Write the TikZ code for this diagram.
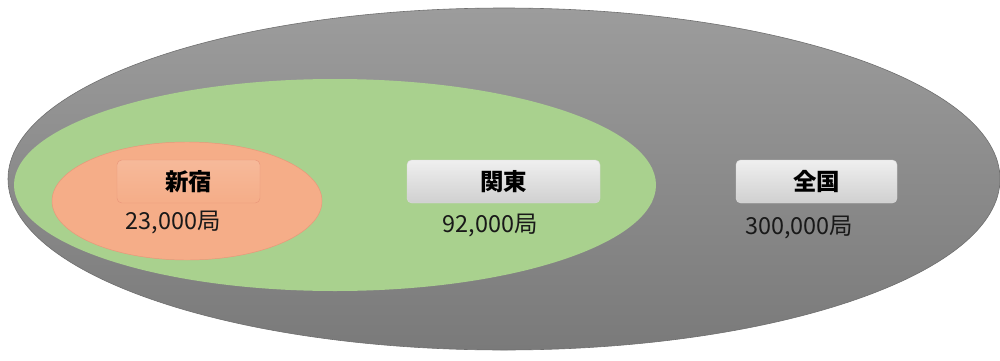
\documentclass[tikz,border=0pt]{standalone}
\usepackage{fontspec}
\setmainfont{Noto Sans CJK JP}
\definecolor{grtop}{HTML}{9C9C9C}
\definecolor{grbot}{HTML}{7A7A7A}
\definecolor{greenfill}{HTML}{A9D18E}
\definecolor{orfill}{HTML}{F5AD88}
\definecolor{orline}{HTML}{E9967A}
\definecolor{boxtop}{HTML}{EFEFEF}
\definecolor{boxbot}{HTML}{D0D0D0}
\begin{document}
\begin{tikzpicture}[x=0.03cm,y=-0.03cm,
  labelbox/.style={rounded corners=4pt, minimum width=#1*0.03cm, minimum height=43*0.03cm,
    top color=boxtop, bottom color=boxbot, draw=boxbot!80!white, line width=0.4pt,
    font=\fontsize{20}{24}\selectfont\bfseries},
  numtext/.style={font=\fontsize{20}{24}\selectfont, text=black!90}]
\useasboundingbox (0,0) rectangle (1000,360);
\fill[white] (0,0) rectangle (1000,360);
% outer ellipse
\shade[top color=grtop, bottom color=grbot, draw=grbot!90!black, line width=0.5pt]
  (504,179) ellipse [x radius=496, y radius=171];
% green ellipse
\fill[greenfill] (335,185) ellipse [x radius=321, y radius=106];
% orange ellipse
\filldraw[fill=orfill, draw=orline, line width=0.4pt] (187,201) ellipse [x radius=135, y radius=59];
% boxes
\node[labelbox=143, top color=orfill!85!white, bottom color=orfill, draw=orline] (shinjuku) at (188.5,181.5) {新宿};
\node[labelbox=193] (kanto) at (503.5,181.5) {関東};
\node[labelbox=161] (zenkoku) at (816.5,181.5) {全国};
\node[numtext] (n1) at (173,222) {23,000局};
\node[numtext] (n2) at (490,225) {92,000局};
\node[numtext] (n3) at (799,227) {300,000局};
\end{tikzpicture}
\end{document}
